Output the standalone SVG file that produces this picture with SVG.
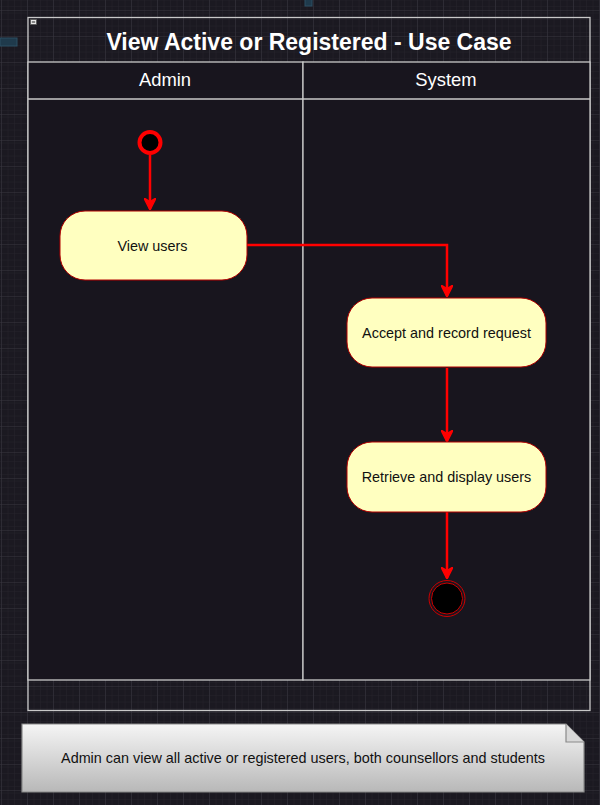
<svg xmlns="http://www.w3.org/2000/svg" width="600" height="805" viewBox="0 0 600 805">
<defs>
  <pattern id="minor" width="6.5" height="6.5" patternUnits="userSpaceOnUse" x="1" y="10">
    <path d="M6.5 0V6.5M0 6.5H6.5" fill="none" stroke="#26242c" stroke-width="1"/>
  </pattern>
  <pattern id="major" width="26" height="26" patternUnits="userSpaceOnUse" x="1" y="10">
    <rect width="26" height="26" fill="url(#minor)"/>
    <path d="M0 0V26M0 0H26" fill="none" stroke="#393740" stroke-width="1"/>
  </pattern>
  <linearGradient id="noteGrad" x1="0" y1="0" x2="0" y2="1">
    <stop offset="0" stop-color="#f5f5f5"/>
    <stop offset="1" stop-color="#b8b8b8"/>
  </linearGradient>
  <marker id="arrow" viewBox="0 0 10 10" refX="9" refY="5" markerWidth="5" markerHeight="5" orient="auto" markerUnits="strokeWidth">
    <path d="M0 0L10 5L0 10L3 5Z" fill="#ff0000" stroke="#ff0000"/>
  </marker>
  <style>
    .lane{fill:#18151e;stroke:#c8c8c8;stroke-width:1.3}
    .frame{fill:none;stroke:#c8c8c8;stroke-width:1.3}
    .act{fill:#ffffc0;stroke:#b20000;stroke-width:1}
    .t{font-family:"Liberation Sans",Arial,sans-serif;text-anchor:middle;dominant-baseline:central}
    .hdr{fill:#ffffff;font-size:18.4px}
    .lbl{fill:#111111;font-size:14.4px}
    .edge{fill:none;stroke:#ff0000;stroke-width:2.5;marker-end:url(#arrow)}
  </style>
</defs>
<rect width="600" height="805" fill="#1b1921"/>
<rect width="600" height="805" fill="url(#major)"/>
<rect x="0" y="38" width="17" height="8" fill="#1f3a4c" stroke="#2d4f63" stroke-width="1"/>
<rect x="305" y="-2" width="7" height="8" fill="#1f3a4c" stroke="#2d4f63" stroke-width="1"/>

<g id="pool">
  <rect class="frame" x="28" y="17.5" width="562" height="693"/>
  <rect x="30.5" y="19.5" width="6" height="5" fill="#e8e8e8" stroke="#555" stroke-width="0.8"/>
  <line x1="31.8" y1="22" x2="35.2" y2="22" stroke="#222" stroke-width="1"/>
  <text class="t" x="309" y="42" fill="#ffffff" font-size="23" font-weight="bold">View Active or Registered - Use Case</text>
</g>
<g id="lane-admin">
  <rect class="lane" x="28" y="62" width="275" height="618"/>
  <line class="frame" x1="28" y1="99" x2="303" y2="99"/>
  <text class="t hdr" x="165" y="79">Admin</text>
</g>
<g id="lane-system">
  <rect class="lane" x="303" y="62" width="287" height="618"/>
  <line class="frame" x1="303" y1="99" x2="590" y2="99"/>
  <text class="t hdr" x="446" y="79">System</text>
</g>

<g id="connectors">
  <path class="edge" d="M150 155V209"/>
  <path class="edge" d="M247 245H447V296"/>
  <path class="edge" d="M447 368V441"/>
  <path class="edge" d="M447 512V578"/>
</g>

<g id="start">
  <circle cx="150" cy="142.5" r="10.5" fill="#000" stroke="#ff0000" stroke-width="4"/>
</g>
<g id="view-users">
  <rect class="act" x="60" y="211" width="187" height="69" rx="25" ry="25"/>
  <text class="t lbl" x="152.5" y="246">View users</text>
</g>
<g id="accept">
  <rect class="act" x="347" y="298" width="199" height="69" rx="25" ry="25"/>
  <text class="t lbl" x="446.5" y="333">Accept and record request</text>
</g>
<g id="retrieve">
  <rect class="act" x="347" y="442" width="199" height="70" rx="25" ry="25"/>
  <text class="t lbl" x="446.5" y="477">Retrieve and display users</text>
</g>
<g id="end">
  <circle cx="447" cy="598.5" r="18" fill="none" stroke="#cc0000" stroke-width="1"/>
  <circle cx="447" cy="598.5" r="15.5" fill="#000" stroke="#cc0000" stroke-width="1"/>
</g>
<g id="note">
  <path d="M22 724H566L584 742V792H22Z" fill="url(#noteGrad)" stroke="#8a8a8a" stroke-width="1.2"/>
  <path d="M566 724V742H584" fill="#d8d8d8" stroke="#8a8a8a" stroke-width="1.2"/>
  <text class="t lbl" x="303" y="758">Admin can view all active or registered users, both counsellors and students</text>
</g>
</svg>
